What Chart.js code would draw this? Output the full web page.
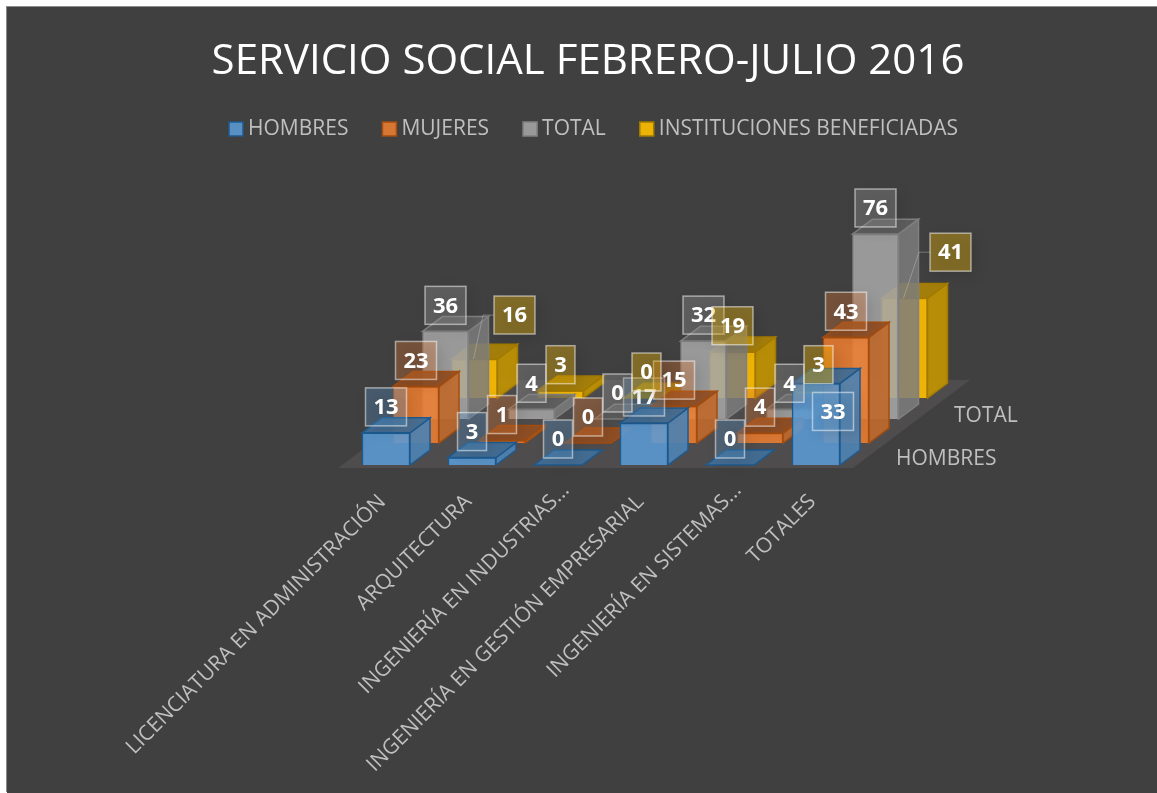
<!DOCTYPE html>
<html>
<head>
<meta charset="utf-8">
<title>Servicio social</title>
<script src="https://cdn.jsdelivr.net/npm/chart.js@4"></script>
<style>
  html, body { margin: 0; background: #fff; overflow: hidden; }
  #chart1 { position: absolute; left: 7px; top: 7px; background: #404040; box-shadow: -1px -1px 0 #8c8c8c; }
</style>
</head>
<body>
<canvas id="chart1" width="1162" height="786"></canvas>
<script>
const categories = ['LICENCIATURA EN ADMINISTRACIÓN', 'ARQUITECTURA', 'INGENIERÍA EN INDUSTRIAS...',
  'INGENIERÍA EN GESTIÓN EMPRESARIAL', 'INGENIERÍA EN SISTEMAS...', 'TOTALES'];
const hombres = [13, 3, 0, 17, 0, 33];
const mujeres = [23, 1, 0, 15, 4, 43];
const total = [36, 4, 0, 32, 4, 76];
const instituciones = [16, 3, 0, 19, 3, 41];

const fontName = '"Open Sans"';
const textColor = '#bfbfbf';

// depth rows of the fake 3d, front to back
const rows = [
  { dx: 0, dy: 0, sy: 1 },
  { dx: 30, dy: -22, sy: 0.995 },
  { dx: 59.5, dy: -46, sy: 0.985 },
  { dx: 88.5, dy: -67, sy: 0.985 }
];
const depth = { x: 20, y: -15 };

const styles = [
  { front: 'rgba(91, 155, 213, 0.88)', side: 'rgba(78, 130, 178, 0.92)', top: 'rgba(66, 110, 150, 0.95)', line: '#1f5a8e', box: 'rgba(91, 155, 213, 0.3)' },
  { front: 'rgba(237, 125, 49, 0.88)', side: 'rgba(190, 105, 45, 0.92)', top: 'rgba(145, 78, 35, 0.95)', line: '#a34d10', box: 'rgba(237, 125, 49, 0.3)' },
  { front: 'rgba(165, 165, 165, 0.88)', side: 'rgba(125, 125, 125, 0.85)', top: 'rgba(100, 100, 100, 0.8)', line: '#808080', box: 'rgba(165, 165, 165, 0.3)' },
  { front: 'rgba(255, 192, 0, 0.9)', side: 'rgba(190, 145, 5, 0.95)', top: 'rgba(170, 130, 8, 0.95)', line: '#a37a00', box: 'rgba(255, 192, 0, 0.35)' }
];

// labels dragged away from their bar: [dataset, category, x, y]
const labelMoves = [[3, 0, 40, -18], [0, 5, 17, 54], [3, 5, 46, -20]];
const leaderLines = [[3, 0], [3, 5]];
const depthLabels = [[0, 889, 452], [2, 947, 409]];

function poly(ctx, pts, fill, line) {
  ctx.beginPath();
  pts.forEach((p, i) => i ? ctx.lineTo(p[0], p[1]) : ctx.moveTo(p[0], p[1]));
  ctx.closePath();
  ctx.fillStyle = fill;
  ctx.fill();
  ctx.strokeStyle = line;
  ctx.lineWidth = 1.5;
  ctx.stroke();
}

const fake3d = {
  id: 'fake3d',
  beforeDatasetsDraw(chart) {
    const { ctx, chartArea } = chart;
    const l = chartArea.left - 5, r = chartArea.right - 6, b = chartArea.bottom + 3;
    ctx.save();
    ctx.beginPath();
    ctx.moveTo(l, b);
    ctx.lineTo(r, b);
    ctx.lineTo(r + 117, b - 88);
    ctx.lineTo(l + 117, b - 88);
    ctx.closePath();
    ctx.fillStyle = '#4e4c4c';
    ctx.fill();
    ctx.restore();
  },
  beforeDatasetDraw(chart, args) {
    const { ctx, chartArea } = chart;
    const row = rows[args.index];
    ctx.save();
    ctx.translate(row.dx, chartArea.bottom + row.dy);
    ctx.scale(1, row.sy);
    ctx.translate(0, -chartArea.bottom);
  },
  afterDatasetDraw(chart, args) {
    const { ctx } = chart;
    const st = styles[args.index];
    args.meta.data.forEach(bar => {
      const p = bar.getProps(['x', 'y', 'base', 'width'], true);
      const x0 = p.x - p.width / 2, x1 = p.x + p.width / 2;
      poly(ctx, [[x1, p.y], [x1 + depth.x, p.y + depth.y], [x1 + depth.x, p.base + depth.y], [x1, p.base]], st.side, st.line);
      poly(ctx, [[x0, p.y], [x0 + depth.x, p.y + depth.y], [x1 + depth.x, p.y + depth.y], [x1, p.y]], st.top, st.line);
    });
    ctx.restore();
  },
  afterDatasetsDraw(chart) {
    const { ctx, chartArea } = chart;
    const at = (d, i) => {
      const bar = chart.getDatasetMeta(d).data[i];
      const row = rows[d];
      return {
        x: bar.x + row.dx,
        y: chartArea.bottom + row.dy + (bar.y - chartArea.bottom) * row.sy
      };
    };
    const moved = (d, i) => labelMoves.find(m => m[0] === d && m[1] === i);

    leaderLines.forEach(([d, i]) => {
      const top = at(d, i), m = moved(d, i);
      const bx = top.x + m[2] - 20.5, by = top.y - 26 + m[3];
      ctx.beginPath();
      ctx.moveTo(bx, by);
      ctx.lineTo(bx - 11, by);
      ctx.lineTo(top.x - 1, top.y);
      ctx.strokeStyle = 'rgba(200, 200, 200, 0.4)';
      ctx.lineWidth = 1;
      ctx.stroke();
    });

    ctx.font = 'bold 22px ' + fontName;
    ctx.textAlign = 'center';
    ctx.textBaseline = 'middle';
    chart.data.datasets.forEach((ds, d) => {
      ds.data.forEach((v, i) => {
        const top = at(d, i), m = moved(d, i);
        const cx = top.x + (m ? m[2] : 0), cy = top.y - 26 + (m ? m[3] : 0);
        const w = String(v).length > 1 ? 41 : 29, h = 38;
        ctx.save();
        ctx.shadowColor = 'rgba(0, 0, 0, 0.35)';
        ctx.shadowBlur = 14;
        ctx.shadowOffsetX = 4;
        ctx.shadowOffsetY = 4;
        ctx.fillStyle = styles[d].box;
        ctx.fillRect(cx - w / 2, cy - h / 2, w, h);
        ctx.restore();
        ctx.strokeStyle = 'rgba(255, 255, 255, 0.5)';
        ctx.lineWidth = 1.5;
        ctx.strokeRect(cx - w / 2, cy - h / 2, w, h);
        ctx.fillStyle = '#fff';
        ctx.fillText(String(v), cx, cy + 1);
      });
    });
  },
  afterDraw(chart) {
    const { ctx } = chart;
    ctx.save();
    // legend, drawn here because the gap box-text is narrower than the built in one
    ctx.font = '21px ' + fontName;
    ctx.textAlign = 'left';
    ctx.textBaseline = 'middle';
    let x = 221;
    chart.data.datasets.forEach((ds, d) => {
      poly(ctx, [[x + 1, 115], [x + 15, 115], [x + 15, 129], [x + 1, 129]], styles[d].front, styles[d].line);
      ctx.fillStyle = textColor;
      ctx.fillText(ds.label, x + 20, 122);
      x += 20 + ctx.measureText(ds.label).width + 33;
    });
    depthLabels.forEach(([d, lx, ly]) => ctx.fillText(chart.data.datasets[d].label, lx, ly));
    ctx.restore();
  }
};

const seriesValues = [hombres, mujeres, total, instituciones];
const seriesNames = ['HOMBRES', 'MUJERES', 'TOTAL', 'INSTITUCIONES BENEFICIADAS'];
const thickness = [48, 46, 46, 46];

const config1 = {
  type: 'bar',
  data: {
    labels: categories,
    datasets: seriesValues.map((values, d) => ({
      label: seriesNames[d],
      data: values,
      grouped: false,
      clip: false,
      barThickness: thickness[d],
      backgroundColor: styles[d].front,
      borderColor: styles[d].line,
      borderWidth: 1.5
    }))
  },
  options: {
    responsive: false,
    animation: false,
    plugins: {
      legend: { display: false },
      tooltip: { enabled: false },
      title: {
        display: true,
        text: 'SERVICIO SOCIAL FEBRERO-JULIO 2016',
        color: '#ffffff',
        font: { family: fontName, size: 42, weight: 'normal' },
        padding: { top: 30, bottom: 31.6 }
      }
    },
    scales: {
      x: {
        grid: { display: false },
        border: { display: false },
        afterFit(scale) { scale.height = 328; },
        ticks: {
          color: textColor,
          autoSkip: false,
          minRotation: 45,
          maxRotation: 45,
          padding: 5,
          labelOffset: 8,
          font: { family: fontName, size: 21 },
          // the truncated labels sit further up the slant than the others
          callback(value) {
            const name = this.getLabelForValue(value);
            return name.endsWith('...') ? name : name + '\u00a0\u00a0\u00a0';
          }
        }
      },
      y: {
        min: 0,
        max: 140,
        grid: { display: false },
        border: { display: false },
        ticks: { display: false },
        afterFit(scale) { scale.width = 336; }
      },
      y2: {
        position: 'right',
        min: 0,
        max: 140,
        grid: { display: false },
        border: { display: false },
        ticks: { display: false },
        afterFit(scale) { scale.width = 310; }
      }
    }
  },
  plugins: [fake3d]
};
const myChart1 = new Chart(document.getElementById('chart1').getContext('2d'), config1);
</script>
</body>
</html>
